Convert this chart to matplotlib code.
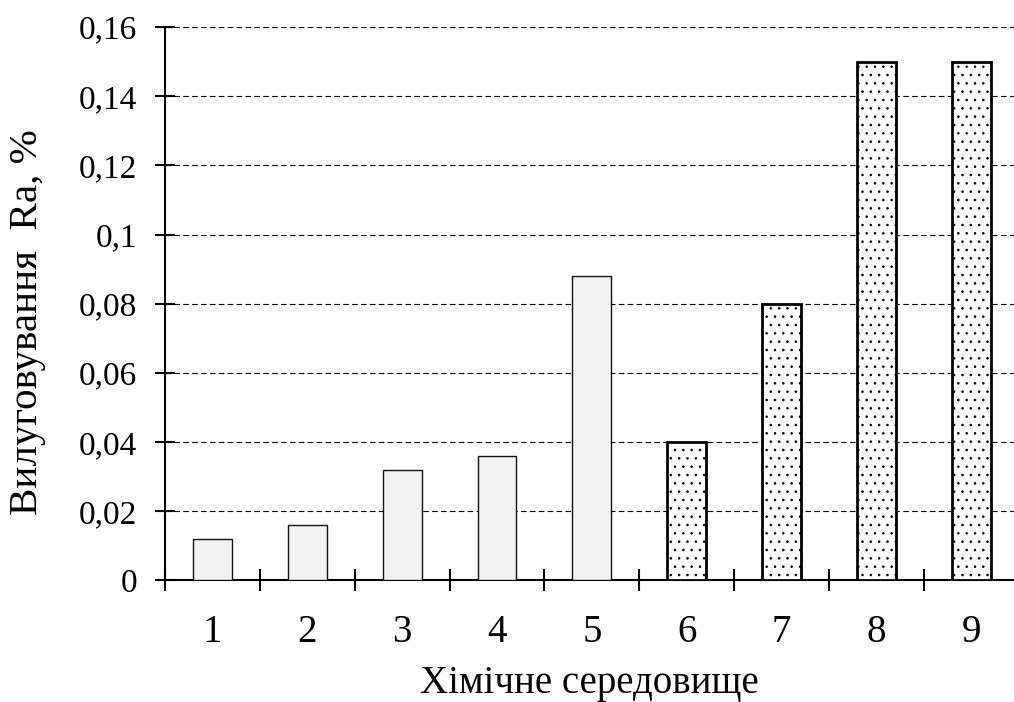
import matplotlib

matplotlib.use("Agg")

import matplotlib.pyplot as plt
from matplotlib.ticker import FixedLocator, FuncFormatter

# data
categories = ["1", "2", "3", "4", "5", "6", "7", "8", "9"]
values = [0.012, 0.016, 0.032, 0.036, 0.088, 0.040, 0.080, 0.150, 0.150]
dotted = [False, False, False, False, False, True, True, True, True]
y_ticks = [0, 0.02, 0.04, 0.06, 0.08, 0.1, 0.12, 0.14, 0.16]

plt.rcParams["font.family"] = ["Liberation Serif", "DejaVu Serif"]
plt.rcParams["hatch.linewidth"] = 0.6

fig = plt.figure(figsize=(10.14, 7.02), dpi=100)
ax = fig.add_axes([0.1627, 0.1731, 0.8373, 0.7884])

x = list(range(1, len(categories) + 1))
for xi, v, d in zip(x, values, dotted):
    if d:
        ax.bar(xi, v, width=0.41, color="white", edgecolor="black", linewidth=2.0,
               hatch="..", zorder=3)
    else:
        ax.bar(xi, v, width=0.41, color="#f2f2f2", edgecolor="#111111", linewidth=1.0,
               zorder=3)

ax.set_xlim(0.5, 9.45)
ax.set_ylim(0, 0.16)

ax.set_xticks(x)
ax.set_xticklabels(categories)
ax.xaxis.set_minor_locator(FixedLocator([i + 0.5 for i in range(0, 9)]))
ax.tick_params(axis="x", which="major", length=0, pad=24, labelsize=28)
ax.tick_params(axis="x", which="minor", direction="inout", length=16.5, width=1.5)

ax.set_yticks(y_ticks)
ax.yaxis.set_major_formatter(FuncFormatter(lambda v, _: f"{v:g}".replace(".", ",")))
ax.tick_params(axis="y", direction="inout", length=14.4, width=1.5, labelsize=24, pad=13)

for yv in y_ticks[1:]:
    ax.axhline(yv, color="black", linestyle=(0, (5, 3)), linewidth=0.8, zorder=1)

for side in ["top", "right"]:
    ax.spines[side].set_visible(False)
ax.spines["left"].set_linewidth(1.5)
ax.spines["bottom"].set_linewidth(1.5)
ax.spines["left"].set_bounds(0, 0.16)

ax.set_xlabel("Хімічне середовище", fontsize=28, va="top")
ax.xaxis.set_label_coords(0.5, -0.153)
ax.set_ylabel("Вилуговування  Ra, %", fontsize=29.5)
ax.yaxis.set_label_coords(-0.1407, 0.466)

fig.savefig("out.png", dpi=100)
